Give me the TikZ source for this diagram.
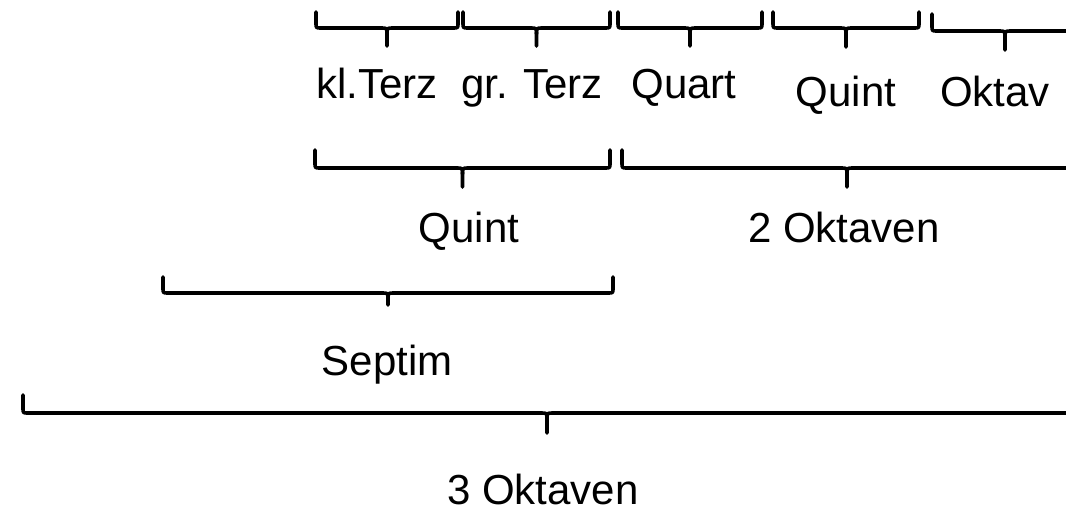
\documentclass[tikz,border=0pt]{standalone}
\usepackage{fontspec}
\setmainfont{Liberation Sans}
\newcommand{\curlyb}[5]{% x1, x2, top, line, tipbottom (pixels, y down)
  \pgfmathsetmacro{\xm}{(#1+#2)/2}
  \draw[bracestyle] (#1,#3) -- (#1,#4-5) .. controls (#1,#4) .. (#1+5,#4)
     -- (\xm-6,#4) .. controls (\xm,#4) .. (\xm,#4+6) -- (\xm,#5);
  \draw[bracestyle] (#2,#3) -- (#2,#4-5) .. controls (#2,#4) .. (#2-5,#4)
     -- (\xm+6,#4) .. controls (\xm,#4) .. (\xm,#4+6);
}
\begin{document}
\begin{tikzpicture}[x=1pt,y=-1pt,
  bracestyle/.style={line width=3.6pt,line cap=round,line join=round},
  lbl/.style={anchor=base,inner sep=0pt,text depth=0pt,font=\fontsize{42}{50}\selectfont}]
\useasboundingbox (0,0) rectangle (1066,514);
\clip (0,0) rectangle (1066,514);
% row 1
\curlyb{316}{458}{12}{28}{46}
\curlyb{463}{610}{12}{28}{46}
\curlyb{618}{762}{12}{28}{46}
\curlyb{773}{919}{12}{28}{47}
\curlyb{932}{1078}{14}{31}{50}
\node[lbl] (klterz) at (377,98) {kl.Terz};
\node[lbl] (grterz) at (532,98) {gr. Terz};
\node[lbl] (quart) at (684,98) {Quart};
\node[lbl] (quint1) at (846,106) {Quint};
\node[lbl] (oktav) at (995,106) {Oktav};
% row 2
\curlyb{315}{610}{150}{168}{187}
\curlyb{622}{1072}{150}{168}{187}
\node[lbl] (quint2) at (469,242) {Quint};
\node[lbl] (zwei) at (844,242) {2 Oktaven};
% row 3
\curlyb{163}{613}{277}{293}{305}
\node[lbl] (septim) at (387,375) {Septim};
% row 4
\curlyb{23}{1071}{395}{413}{433}
\node[lbl] (drei) at (543,504) {3 Oktaven};
\end{tikzpicture}
\end{document}
